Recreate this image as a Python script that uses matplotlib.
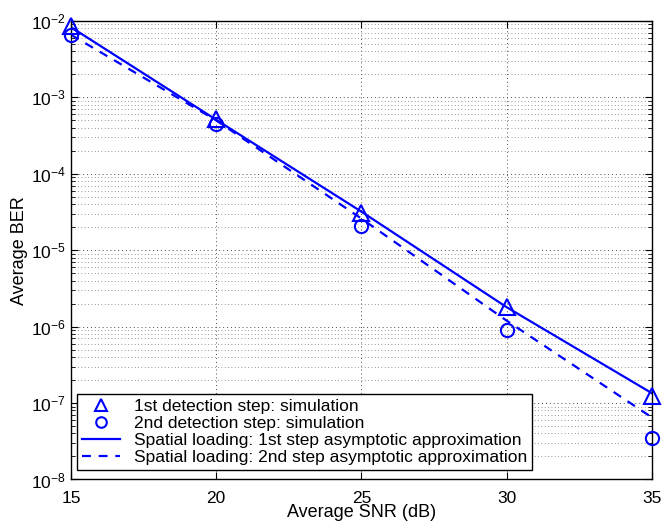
import numpy as np
import matplotlib.pyplot as plt
from matplotlib.ticker import LogLocator, NullFormatter

plt.rcParams['font.family'] = ['Liberation Sans', 'DejaVu Sans']
plt.rcParams['mathtext.fontset'] = 'custom'
plt.rcParams['mathtext.rm'] = 'Liberation Sans'

snr = [15, 20, 25, 30, 35]
sim_step1 = [8.6e-3, 5.2e-4, 3.1e-5, 1.8e-6, 1.25e-7]
sim_step2 = [6.6e-3, 4.5e-4, 2.1e-5, 8.9e-7, 3.5e-8]
approx_step1 = [8.3e-3, 5.1e-4, 3.2e-5, 1.8e-6, 1.35e-7]
approx_step2 = [6.6e-3, 5.0e-4, 2.6e-5, 1.2e-6, 6.5e-8]

blue = (0, 0, 1)

fig = plt.figure(figsize=(6.63, 5.24), dpi=100)
ax = fig.add_axes([0.107, 0.085, 0.876, 0.875])

ax.semilogy(snr, sim_step1, linestyle='none', marker='^', markersize=11,
            markerfacecolor='none', markeredgecolor=blue, markeredgewidth=1.5,
            label='1st detection step: simulation', clip_on=False, zorder=5)
ax.semilogy(snr, sim_step2, linestyle='none', marker='o', markersize=9.5,
            markerfacecolor='none', markeredgecolor=blue, markeredgewidth=1.5,
            label='2nd detection step: simulation', clip_on=False, zorder=5)
ax.semilogy(snr, approx_step1, '-', color=blue, linewidth=1.6,
            label='Spatial loading: 1st step asymptotic approximation')
ax.semilogy(snr, approx_step2, '--', color=blue, linewidth=1.6, dashes=(4, 3.5),
            label='Spatial loading: 2nd step asymptotic approximation')

ax.set_xlim(15, 35)
ax.set_ylim(1e-8, 1e-2)
ax.set_xticks(snr)
ax.yaxis.set_major_locator(LogLocator(base=10, numticks=10))
ax.yaxis.set_minor_locator(LogLocator(base=10, subs=np.arange(2, 10), numticks=20))
ax.yaxis.set_minor_formatter(NullFormatter())

ax.grid(True, which='major', linestyle=(0, (1, 3)), color='0.3', linewidth=0.7)
ax.grid(True, which='minor', axis='y', linestyle=(0, (1, 3)), color='0.45', linewidth=0.6)

ax.tick_params(which='both', direction='in', top=True, right=True, labelsize=12.5)
ax.tick_params(which='major', length=5)
ax.tick_params(which='minor', length=3)
ax.tick_params(axis='x', which='major', pad=8)
for s in ax.spines.values():
    s.set_linewidth(1.0)

ax.set_xlabel('Average SNR (dB)', fontsize=13, labelpad=-1)
ax.set_ylabel('Average BER', fontsize=13, labelpad=2)

leg = ax.legend(loc='lower left', bbox_to_anchor=(0.01, 0.02), fontsize=12.5,
                frameon=True, fancybox=False, edgecolor='black', framealpha=1,
                handlelength=2.2, borderpad=0.3, labelspacing=0.1, handletextpad=0.8,
                borderaxespad=0.0, markerscale=0.8)
leg.get_frame().set_linewidth(1.0)

fig.savefig('out.png', dpi=100)
